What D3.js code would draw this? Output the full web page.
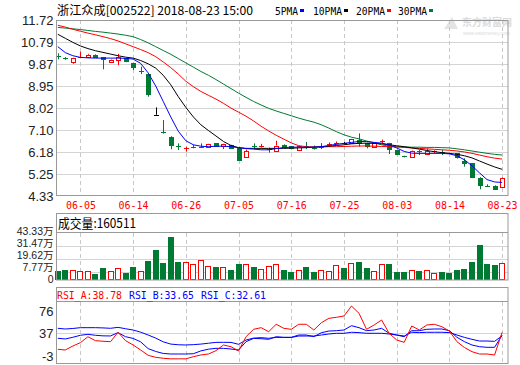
<!DOCTYPE html>
<html><head><meta charset="utf-8">
<script src="https://cdn.jsdelivr.net/npm/d3@7"></script>
<style>body{margin:0;background:#fff}svg{display:block}</style>
</head><body><svg id="c" width="520" height="365"></svg>
<script>
// ---------------- DATA ----------------
const title = "浙江众成[002522] 2018-08-23 15:00";
const maNames = ["5PMA", "10PMA", "20PMA", "30PMA"];
const volTitle = "成交量:160511";
const rsiTitles = ["RSI_A:38.78", "RSI_B:33.65", "RSI_C:32.61"];

const dates = ["05-31","06-01","06-04","06-05","06-06","06-07","06-08","06-11","06-12","06-13","06-14","06-15","06-19","06-20","06-21","06-22","06-25","06-26","06-27","06-28","06-29","07-02","07-03","07-04","07-05","07-06","07-09","07-10","07-11","07-12","07-13","07-16","07-17","07-18","07-19","07-20","07-23","07-24","07-25","07-26","07-27","07-30","07-31","08-01","08-02","08-03","08-06","08-07","08-08","08-09","08-10","08-13","08-14","08-15","08-16","08-17","08-20","08-21","08-22","08-23"];
const tickDates = ["06-05","06-14","06-26","07-05","07-16","07-25","08-03","08-14","08-23"];
const priceTicks = [11.72, 10.79, 9.87, 8.95, 8.02, 7.10, 6.18, 5.25, 4.33];
const volTicks = [43.33, 31.47, 19.62, 7.77, 0];
const rsiTicks = [76, 37, -3];

const open  = [10.22,10.14,9.95,10.14,10.15,10.26,10.15,9.95,10.05,10.11,9.90,9.54,9.45,7.74,7.03,6.82,6.41,6.32,6.36,6.38,6.40,6.54,6.42,6.47,6.36,5.98,6.41,6.43,6.28,6.23,6.49,6.42,6.27,6.41,6.34,6.31,6.49,6.53,6.54,6.54,6.68,6.54,6.40,6.60,6.54,6.26,6.01,5.96,6.20,6.09,6.18,6.17,6.13,6.12,5.80,5.70,5.10,4.77,4.75,4.72];
const high  = [10.32,10.16,10.15,10.39,10.30,10.28,10.16,10.08,10.30,10.12,9.92,9.76,9.46,8.05,7.52,6.84,6.54,6.40,6.48,6.54,6.52,6.55,6.53,6.48,6.37,6.28,6.54,6.52,6.36,6.65,6.50,6.43,6.45,6.60,6.45,6.55,6.58,6.62,6.60,6.73,6.96,6.56,6.56,6.70,6.56,6.27,6.02,6.25,6.26,6.32,6.25,6.26,6.15,6.13,5.91,5.71,5.12,4.82,4.78,5.12];
const low   = [10.07,10.05,9.88,10.13,10.13,10.14,9.65,9.93,9.82,9.95,9.62,9.45,8.50,7.74,6.95,6.29,6.26,6.19,6.33,6.36,6.38,6.40,6.30,6.33,5.83,5.97,6.29,6.36,6.15,6.22,6.37,6.33,6.25,6.30,6.28,6.30,6.44,6.49,6.50,6.53,6.40,6.33,6.38,6.52,6.09,6.08,5.95,5.95,6.05,6.08,6.12,6.05,6.10,5.90,5.56,5.08,4.61,4.72,4.60,4.70];
const close = [10.20,10.10,10.14,10.16,10.26,10.17,10.07,10.06,10.17,9.98,9.76,9.56,8.60,7.74,6.97,6.47,6.39,6.34,6.38,6.40,6.50,6.42,6.52,6.36,5.84,6.22,6.39,6.45,6.30,6.45,6.38,6.35,6.43,6.39,6.32,6.37,6.51,6.55,6.54,6.71,6.56,6.43,6.54,6.62,6.29,6.09,5.96,6.23,6.18,6.23,6.20,6.15,6.12,5.96,5.70,5.12,4.79,4.75,4.64,5.10];
// volume in 万 (10k shares)
const volume = [8.5,9.4,9.1,8.5,8.5,5.4,11.0,8.5,11.0,6.6,12.2,8.5,17.9,27.3,16.0,39.8,17.0,17.0,14.8,18.5,12.9,12.2,12.2,9.4,15.1,15.1,11.6,10.0,12.9,14.8,9.4,7.5,9.1,12.2,7.5,9.1,8.5,13.8,11.0,16.0,17.0,11.0,8.5,14.8,14.8,7.5,7.5,9.1,8.5,9.1,6.6,7.5,6.6,9.4,10.4,17.0,32.0,15.1,14.1,16.05];

const ma5  = [10.60,10.35,10.22,10.15,10.13,10.12,10.12,10.12,10.12,10.11,10.08,9.90,9.50,8.95,8.30,7.65,7.05,6.65,6.48,6.42,6.40,6.42,6.42,6.40,6.36,6.32,6.30,6.27,6.27,6.32,6.36,6.38,6.38,6.38,6.38,6.40,6.45,6.50,6.54,6.58,6.62,6.62,6.58,6.55,6.48,6.35,6.20,6.13,6.12,6.12,6.12,6.12,6.10,6.02,5.85,5.60,5.30,5.02,4.92,4.90];
const ma10 = [11.12,10.95,10.78,10.63,10.52,10.43,10.36,10.29,10.22,10.16,10.12,10.02,9.88,9.70,9.40,9.00,8.50,8.05,7.65,7.32,7.08,6.85,6.62,6.45,6.36,6.33,6.33,6.33,6.33,6.33,6.33,6.34,6.35,6.36,6.38,6.40,6.42,6.45,6.48,6.52,6.54,6.55,6.54,6.52,6.48,6.44,6.40,6.35,6.30,6.24,6.19,6.15,6.12,6.08,6.02,5.93,5.80,5.67,5.55,5.45];
const ma20 = [11.50,11.42,11.33,11.25,11.17,11.10,11.02,10.94,10.84,10.72,10.60,10.48,10.35,10.18,9.96,9.72,9.45,9.15,8.92,8.72,8.56,8.40,8.22,8.02,7.85,7.68,7.48,7.26,7.06,6.88,6.72,6.56,6.44,6.40,6.39,6.39,6.40,6.40,6.41,6.42,6.43,6.43,6.42,6.41,6.40,6.39,6.37,6.35,6.33,6.31,6.29,6.27,6.25,6.22,6.18,6.12,6.05,5.98,5.92,5.88];
const ma30 = [11.41,11.38,11.35,11.32,11.28,11.24,11.21,11.17,11.13,11.08,11.02,10.90,10.76,10.60,10.44,10.28,10.10,9.92,9.74,9.56,9.40,9.22,9.03,8.84,8.65,8.47,8.30,8.15,8.01,7.90,7.80,7.70,7.60,7.51,7.43,7.32,7.18,7.03,6.90,6.80,6.73,6.64,6.56,6.48,6.42,6.40,6.39,6.38,6.38,6.37,6.37,6.36,6.35,6.31,6.27,6.22,6.17,6.12,6.08,6.05];

const rsiA = [8.8,7.6,14.6,20.5,31,24,23,22.2,38.8,24,16.4,7.6,-1.8,-5.3,-7,-8,-8,-8,-4.2,-1.2,0.5,6.4,16.4,13.4,5.8,31,44,46.9,39.8,52.9,45.8,44,52.9,52.9,42.8,55.7,63.4,65.2,67.5,85,72.2,44,51.6,60.4,37,25.2,21.1,49.9,42.8,51.6,52.9,48.6,41,22.2,12,4.6,0.5,0.5,-1.2,38.78];
const rsiB = [28.2,27,30,33.5,35.2,33.5,32.5,32.3,38.2,31,28,22,10,5,1.5,0.5,0.5,0.5,1,6,9,10.5,10.5,9.3,7.6,22.2,28,27.5,26.4,31,29.8,29.8,34,34,31,38,41,41.6,42.8,50.4,46.9,41.6,42.8,45.8,37,34,31,41.6,41.6,44,44.6,44.6,41.6,30,22.2,16.4,13.4,12.3,12.3,33.65];
const rsiC = [45.8,44.6,45.5,46.9,46.9,46.9,46.5,45.8,47.5,45,42.8,39,34,28.5,22,18,16.8,16.4,17,18,19.5,21,21.1,21,17.6,25.2,28.5,29.3,28.2,29.8,29.8,29.8,32.2,32.2,32.2,34,35.8,37,37,38.8,38.2,37,37,37,35.8,34,32.2,38.8,38.2,38.8,38.8,38.8,38.2,34,29.8,26.4,23.4,23.4,22.8,32.61];

// ---------------- DRAW ----------------
const RED = "#ff0000", GREEN = "#007a33", BLUE = "#0000ff", BLACK = "#000000";
const FRAME = "#999999", GRID = "#d4d4d4";
const L = 56.5, R = 508;
const svg = d3.select("#c");
svg.append("rect").attr("width", 520).attr("height", 365).attr("fill", "#fff");

const x = d3.scalePoint().domain(dates).range([57.8, 502.1]);
const yP = d3.scaleLinear().domain([4.33, 11.72]).range([196, 20]);
const yV = d3.scaleLinear().domain([0, 43.33]).range([280, 233]);
const yR = d3.scaleLinear().domain([-3, 37]).range([356, 333.3]);
const px = v => Math.round(v) + 0.5;

function vgrid(y0, y1) {
  svg.append("g").selectAll("line").data(tickDates).join("line")
    .attr("x1", d => px(x(d))).attr("x2", d => px(x(d)))
    .attr("y1", y0).attr("y2", y1)
    .attr("stroke", "#c8c8c8").attr("stroke-dasharray", "4,3");
}
function hgrid(vals, sc) {
  svg.append("g").selectAll("line").data(vals).join("line")
    .attr("x1", L).attr("x2", R)
    .attr("y1", d => px(sc(d))).attr("y2", d => px(sc(d)))
    .attr("stroke", GRID);
}

// header
svg.append("text").attr("x", 57).attr("y", 14.5).text(title)
  .attr("font-family", "Noto Sans CJK SC").attr("font-size", 12).attr("fill", "#000")
  .attr("textLength", 196).attr("lengthAdjust", "spacingAndGlyphs");
const legX = [275, 313, 356, 398];
const legC = [BLUE, BLACK, RED, GREEN];
maNames.forEach((n, i) => {
  const w = n.length * 6 - 1;
  svg.append("text").attr("x", legX[i]).attr("y", 14.5).text(n)
    .attr("font-family", "DejaVu Sans Mono").attr("font-size", 11).attr("fill", "#000")
    .attr("textLength", w).attr("lengthAdjust", "spacingAndGlyphs");
  svg.append("rect").attr("x", legX[i] + w + 2).attr("y", 9).attr("width", 4).attr("height", 3).attr("fill", legC[i]);
});

// watermark
svg.append("path").attr("d", "M444 29 L452 17 L458 29 Z").attr("fill", "#e4e4e4");
svg.append("text").attr("x", 462).attr("y", 26).text("东方财富网")
  .attr("font-family", "Noto Sans CJK SC").attr("font-weight", "bold").attr("font-size", 10)
  .attr("fill", "#dcdcdc");
svg.append("text").attr("x", 463).attr("y", 35).text("www.eastmoney.com")
  .attr("font-family", "Liberation Sans").attr("font-size", 5).attr("fill", "#dcdcdc");

// ---- main panel ----
hgrid(priceTicks.slice(1, -1), yP);
vgrid(20, 196);

const cg = svg.append("g");
dates.forEach((d, i) => {
  const o = open[i], c = close[i], h = high[i], l = low[i];
  const col = c > o ? RED : (c < o ? GREEN : BLACK);
  const cx = px(x(d)), xi = Math.round(x(d));
  const yt = yP(Math.max(o, c)), yb = yP(Math.min(o, c));
  if (c > o && yb - yt >= 2) {
    cg.append("line").attr("x1", cx).attr("x2", cx).attr("y1", yP(h)).attr("y2", yt).attr("stroke", col);
    cg.append("line").attr("x1", cx).attr("x2", cx).attr("y1", yb).attr("y2", yP(l)).attr("stroke", col);
    cg.append("rect").attr("x", xi - 1.5).attr("y", Math.round(yt) + 0.5).attr("width", 4)
      .attr("height", Math.max(1, Math.round(yb) - Math.round(yt))).attr("fill", "#fff").attr("stroke", col);
  } else {
    cg.append("line").attr("x1", cx).attr("x2", cx).attr("y1", yP(h)).attr("y2", yP(l)).attr("stroke", col);
    if (yb - yt < 1.5) {
      cg.append("line").attr("x1", xi - 2).attr("x2", xi + 3).attr("y1", px(yt)).attr("y2", px(yt)).attr("stroke", col);
    } else {
      cg.append("rect").attr("x", xi - 2).attr("y", Math.round(yt)).attr("width", 5)
        .attr("height", Math.round(yb) - Math.round(yt) + 1).attr("fill", col);
    }
  }
});

const lineP = arr => d3.line().x((v, i) => x(dates[i])).y(v => yP(v))(arr);
[[ma30, GREEN], [ma20, RED], [ma10, BLACK], [ma5, BLUE]].forEach(([a, col]) => {
  svg.append("path").attr("d", lineP(a)).attr("fill", "none").attr("stroke", col).attr("stroke-width", 1);
});

svg.append("rect").attr("x", L).attr("y", 20.5).attr("width", R - L).attr("height", 175)
  .attr("fill", "none").attr("stroke", FRAME);

const axP = svg.append("g").attr("transform", `translate(${L},0)`)
  .call(d3.axisLeft(yP).tickValues(priceTicks).tickFormat(d => d.toFixed(2)).tickSize(0).tickPadding(3));
axP.select(".domain").remove();
axP.selectAll("text").attr("font-family", "Liberation Sans").attr("font-size", 13).attr("fill", "#222");

const axX = svg.append("g").attr("transform", "translate(0,196)")
  .call(d3.axisBottom(x).tickValues(tickDates).tickSize(0).tickPadding(4));
axX.select(".domain").remove();
axX.selectAll("text").attr("font-family", "DejaVu Sans Mono").attr("font-size", 11).attr("fill", RED)
  .attr("y", 5).attr("textLength", 30).attr("lengthAdjust", "spacingAndGlyphs");

// ---- volume panel ----
hgrid(volTicks.slice(1, -1), yV);
vgrid(233, 280);
const vg = svg.append("g");
dates.forEach((d, i) => {
  const up = close[i] > open[i] || (close[i] === open[i] && i > 0 && close[i] >= close[i - 1]);
  const xi = Math.round(x(d));
  const yt = Math.round(yV(volume[i]));
  if (up) {
    vg.append("rect").attr("x", xi - 2.5).attr("y", yt + 0.5).attr("width", 5).attr("height", 279 - yt)
      .attr("fill", "#fff").attr("stroke", RED);
  } else {
    vg.append("rect").attr("x", xi - 3).attr("y", yt).attr("width", 6).attr("height", 280 - yt).attr("fill", GREEN);
  }
});
svg.append("rect").attr("x", L).attr("y", 213.5).attr("width", R - L).attr("height", 66.5)
  .attr("fill", "none").attr("stroke", FRAME);
svg.append("line").attr("x1", L).attr("x2", R).attr("y1", 232.5).attr("y2", 232.5).attr("stroke", FRAME);
svg.append("text").attr("x", 58).attr("y", 228).text(volTitle)
  .attr("font-family", "Noto Sans CJK SC").attr("font-size", 13).attr("fill", "#000")
  .attr("textLength", 78).attr("lengthAdjust", "spacingAndGlyphs");
const axV = svg.append("g").attr("transform", `translate(${L},0)`)
  .call(d3.axisLeft(yV).tickValues(volTicks).tickFormat(d => d === 0 ? "0" : d.toFixed(2) + "万").tickSize(0).tickPadding(3));
axV.select(".domain").remove();
// labels stacked 12px apart just above their gridlines, as in the reference
const volLabelY = [231.5, 243.5, 255.5, 267.5, 280];
axV.selectAll(".tick").attr("transform", (d, i) => `translate(0,${volLabelY[i]})`);
axV.selectAll("text").attr("font-family", "Liberation Sans, Noto Sans CJK SC").attr("font-size", 10.5).attr("fill", "#222");

// ---- RSI panel ----
hgrid([37], yR);
vgrid(302, 363);
const lineR = arr => d3.line().x((v, i) => x(dates[i])).y(v => yR(v))(arr);
[[rsiC, BLUE], [rsiB, BLUE], [rsiA, RED]].forEach(([a, col]) => {
  svg.append("path").attr("d", lineR(a)).attr("fill", "none").attr("stroke", col).attr("stroke-width", 1);
});
svg.append("rect").attr("x", L).attr("y", 287.5).attr("width", R - L).attr("height", 76)
  .attr("fill", "none").attr("stroke", FRAME);
svg.append("line").attr("x1", L).attr("x2", R).attr("y1", 301.5).attr("y2", 301.5).attr("stroke", FRAME);
const rtX = [57, 129, 201], rtC = [RED, BLUE, BLUE];
rsiTitles.forEach((t, i) => {
  svg.append("text").attr("x", rtX[i]).attr("y", 298.5).text(t)
    .attr("font-family", "DejaVu Sans Mono").attr("font-size", 11).attr("fill", rtC[i])
    .attr("textLength", 65).attr("lengthAdjust", "spacingAndGlyphs");
});
const axR = svg.append("g").attr("transform", `translate(${L},0)`)
  .call(d3.axisLeft(yR).tickValues(rsiTicks).tickFormat(d => String(d)).tickSize(0).tickPadding(3));
axR.select(".domain").remove();
axR.selectAll("text").attr("font-family", "Liberation Sans").attr("font-size", 13).attr("fill", "#222");
</script></body></html>
